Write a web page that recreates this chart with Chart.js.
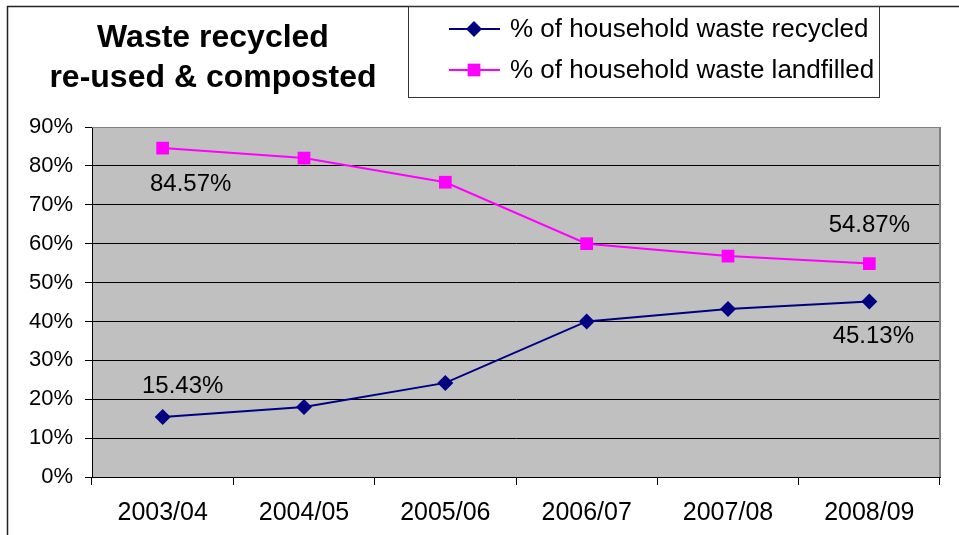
<!DOCTYPE html>
<html lang="en">
<head>
    <meta charset="UTF-8">
    <title>Waste recycled re-used & composted</title>
    <script src="https://cdn.jsdelivr.net/npm/chart.js"></script>
    <style>
        body { margin: 0; background: #fff; }
        canvas { display: block; }
    </style>
</head>
<body>
    <canvas id="wasteChart" width="959" height="535"></canvas>

    <script>
        // data
        const years = ['2003/04', '2004/05', '2005/06', '2006/07', '2007/08', '2008/09'];
        const recycled = [15.43, 18.0, 24.2, 40.0, 43.2, 45.13];
        const landfilled = [84.57, 82.0, 75.8, 60.0, 56.8, 54.87];
        const seriesNames = ['% of household waste recycled', '% of household waste landfilled'];
        const titleLines = ['Waste recycled', 're-used & composted'];
        const yTicks = [0, 10, 20, 30, 40, 50, 60, 70, 80, 90];

        const FONT = '"Liberation Sans", Arial, sans-serif';

        // labels only on first and last point: [dataset, index, dx, dy]
        const pointLabels = [
            [1, 0, 28, 36],
            [0, 0, 20, -31],
            [1, 5, 0, -38],
            [0, 5, 4, 35]
        ];

        const decorPlugin = {
            id: 'decor',
            beforeDraw(chart) {
                const ctx = chart.ctx;
                const a = chart.chartArea;
                ctx.save();
                ctx.fillStyle = '#fff';
                ctx.fillRect(0, 0, chart.width, chart.height);
                ctx.fillStyle = '#c0c0c0';
                ctx.fillRect(a.left, a.top, a.right - a.left, a.bottom - a.top);
                ctx.restore();
            },
            beforeDatasetsDraw(chart) {
                const ctx = chart.ctx;
                const a = chart.chartArea;
                ctx.save();
                ctx.strokeStyle = '#808080';
                ctx.lineWidth = 1;
                ctx.beginPath();
                ctx.moveTo(a.left, a.top + 0.5);
                ctx.lineTo(a.right, a.top + 0.5);
                ctx.stroke();
                ctx.lineWidth = 2;
                ctx.beginPath();
                ctx.moveTo(a.right, a.top);
                ctx.lineTo(a.right, a.bottom);
                ctx.stroke();
                ctx.restore();
            },
            afterDraw(chart) {
                const ctx = chart.ctx;
                ctx.save();

                // outer frame
                ctx.strokeStyle = '#222';
                ctx.lineWidth = 1.5;
                ctx.beginPath();
                ctx.moveTo(7.5, chart.height);
                ctx.lineTo(7.5, 6.5);
                ctx.lineTo(chart.width, 6.5);
                ctx.stroke();

                // title
                ctx.fillStyle = '#000';
                ctx.font = 'bold 32px ' + FONT;
                ctx.textAlign = 'center';
                ctx.textBaseline = 'middle';
                titleLines.forEach((t, i) => ctx.fillText(t, 213, 38 + i * 40));

                // legend box
                ctx.strokeStyle = '#333';
                ctx.lineWidth = 1;
                ctx.strokeRect(408.5, 6.5, 471, 91);
                ctx.font = '26px ' + FONT;
                ctx.textAlign = 'left';
                chart.data.datasets.forEach((ds, i) => {
                    const y = 29 + i * 41;
                    ctx.strokeStyle = ds.borderColor;
                    ctx.lineWidth = 2;
                    ctx.beginPath();
                    ctx.moveTo(449, y);
                    ctx.lineTo(500, y);
                    ctx.stroke();
                    ctx.fillStyle = ds.pointBackgroundColor;
                    Chart.helpers.drawPoint(ctx, {
                        pointStyle: ds.pointStyle,
                        radius: ds.pointRadius,
                        borderWidth: 0
                    }, 474, y);
                    ctx.fillStyle = '#000';
                    ctx.fillText(ds.label, 510, y + 1);
                });

                // point labels
                ctx.font = '24px ' + FONT;
                ctx.textAlign = 'center';
                ctx.fillStyle = '#000';
                pointLabels.forEach(([d, idx, dx, dy]) => {
                    const pt = chart.getDatasetMeta(d).data[idx];
                    const v = chart.data.datasets[d].data[idx];
                    ctx.fillText(v.toFixed(2) + '%', pt.x + dx, pt.y + dy);
                });

                ctx.restore();
            }
        };

        new Chart(document.getElementById('wasteChart').getContext('2d'), {
            type: 'line',
            data: {
                labels: years,
                datasets: [{
                    label: seriesNames[0],
                    data: recycled,
                    borderColor: '#000080',
                    backgroundColor: '#000080',
                    pointBackgroundColor: '#000080',
                    pointBorderColor: '#000080',
                    pointStyle: 'rectRot',
                    pointRadius: 8,
                    pointBorderWidth: 0,
                    borderWidth: 2,
                    tension: 0
                }, {
                    label: seriesNames[1],
                    data: landfilled,
                    borderColor: '#ff00ff',
                    backgroundColor: '#ff00ff',
                    pointBackgroundColor: '#ff00ff',
                    pointBorderColor: '#ff00ff',
                    pointStyle: 'rect',
                    pointRadius: 9,
                    pointBorderWidth: 0,
                    borderWidth: 2,
                    tension: 0
                }]
            },
            options: {
                responsive: false,
                maintainAspectRatio: false,
                animation: false,
                layout: {
                    padding: { top: 127, right: 19, bottom: 0, left: 0 }
                },
                plugins: {
                    legend: { display: false },
                    tooltip: { enabled: false }
                },
                scales: {
                    x: {
                        offset: true,
                        afterFit(scale) { scale.height = 58; },
                        grid: {
                            offset: true,
                            drawOnChartArea: false,
                            drawTicks: true,
                            tickLength: 8,
                            color: '#000'
                        },
                        border: { display: true, color: '#000', width: 1 },
                        ticks: {
                            color: '#000',
                            padding: 13,
                            maxRotation: 0,
                            font: { family: FONT, size: 25 }
                        }
                    },
                    y: {
                        min: yTicks[0],
                        max: yTicks[yTicks.length - 1],
                        afterFit(scale) { scale.width = 92; },
                        afterBuildTicks(scale) {
                            scale.ticks = yTicks.map(v => ({ value: v }));
                        },
                        grid: {
                            color: '#000',
                            tickLength: 7,
                            lineWidth: 1
                        },
                        border: { display: true, color: '#000', width: 1 },
                        ticks: {
                            color: '#000',
                            padding: 12,
                            font: { family: FONT, size: 22 },
                            callback: v => v + '%'
                        }
                    }
                }
            },
            plugins: [decorPlugin]
        });
    </script>
</body>
</html>
